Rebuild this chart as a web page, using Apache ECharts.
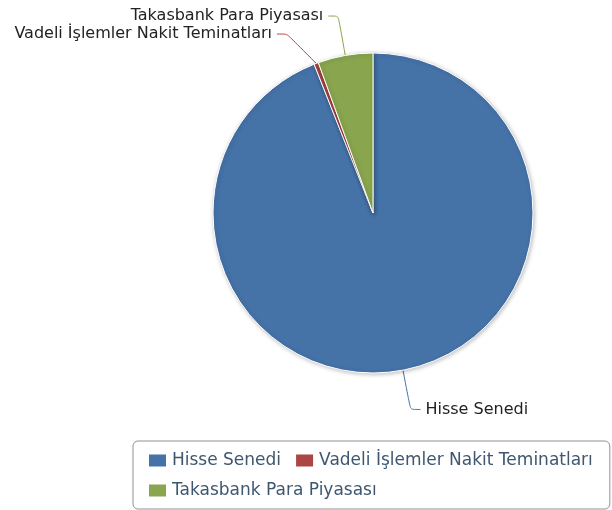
<!DOCTYPE html>
<html>
<head>
<meta charset="utf-8">
<script src="https://cdn.jsdelivr.net/npm/echarts@6/dist/echarts.min.js"></script>
<style>
  html, body { margin: 0; padding: 0; background: #fff; }
  #chart { width: 612px; height: 510px; }
</style>
</head>
<body>
<div id="chart"></div>
<script>
// veri
const names = ['Hisse Senedi', 'Vadeli İşlemler Nakit Teminatları', 'Takasbank Para Piyasası'];
const values = [94.0, 0.45, 5.55];
const colors = ['#4572A7', '#AA4643', '#89A54E'];

initPie();

function initPie() {
    let chart = echarts.init(document.getElementById('chart'));

    let data = [];
    for (let i = 0; i < names.length; i++) {
        data.push({ name: names[i], value: values[i] });
    }

    let option = {
        backgroundColor: '#fff',
        animation: false,
        color: colors,
        legend: {
            data: names,
            orient: 'horizontal',
            left: 133,
            top: 441,
            width: 465,
            padding: [11, 17, 10, 14],
            itemGap: 13,
            itemWidth: 19,
            itemHeight: 14,
            icon: 'rect',
            borderColor: '#909090',
            borderWidth: 1,
            borderRadius: 5,
            textStyle: {
                fontFamily: 'DejaVu Sans',
                fontSize: 17,
                color: '#3E576F'
            }
        },
        series: [{
            type: 'pie',
            center: [373, 213],
            radius: [0, 160],
            startAngle: 90,
            clockwise: true,
            avoidLabelOverlap: true,
            itemStyle: {
                borderColor: '#fff',
                borderWidth: 1,
                shadowColor: 'rgba(0,0,0,0.25)',
                shadowBlur: 4,
                shadowOffsetX: 1,
                shadowOffsetY: 1
            },
            label: {
                show: true,
                formatter: '{b}',
                fontFamily: 'DejaVu Sans',
                fontSize: 16,
                color: '#222'
            },
            labelLine: {
                show: true,
                length: 40,
                length2: 10,
                smooth: 0.2,
                lineStyle: { width: 1 }
            },
            emphasis: { disabled: true },
            data: data
        }]
    };

    chart.setOption(option);
}
</script>
</body>
</html>
